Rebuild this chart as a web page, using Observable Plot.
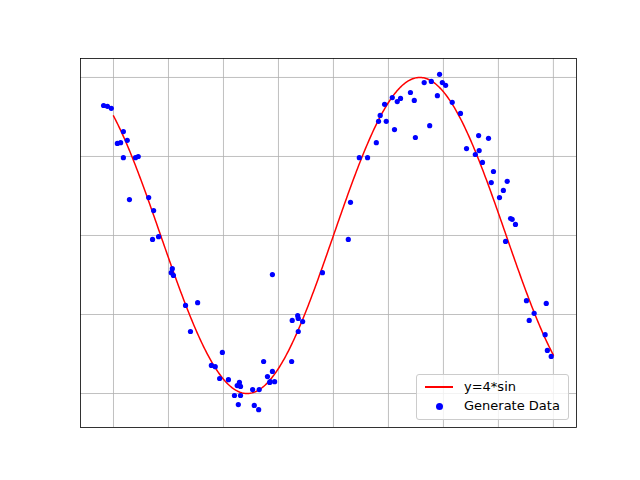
<!DOCTYPE html>
<html><head><meta charset="utf-8">
<script src="https://cdn.jsdelivr.net/npm/d3@7"></script>
<script src="https://cdn.jsdelivr.net/npm/@observablehq/plot@0.6"></script>
<style>
body{margin:0;background:#fff;font-family:"DejaVu Sans",sans-serif}
#wrap{position:relative;width:640px;height:480px}
#legend{position:absolute;left:416px;top:374px;width:151px;height:44px;border:1px solid #ccc;border-radius:3px;background:rgba(255,255,255,0.8);font-size:13px;color:#000}
#legend div{position:absolute;left:8px;display:flex;align-items:center}
</style></head><body>
<div id="wrap"><div id="chart"></div>
<div id="legend">
  <div style="top:4px"><span style="display:inline-block;width:28px;height:2px;background:red;margin-right:11px"></span>y=4*sin</div>
  <div style="top:23px"><span style="display:inline-block;width:28px;text-align:center;margin-right:11px"><span style="display:inline-block;width:7px;height:7px;border-radius:50%;background:blue"></span></span>Generate Data</div>
</div></div>
<script>
const xs = [-4.18,-4.11,-4.04,-3.93,-3.87,-3.82,-3.82,-3.75,-3.71,-3.60,-3.55,-3.36,-3.29,-3.27,-3.18,-2.95,-2.93,-2.91,-2.69,-2.60,-2.47,-2.22,-2.15,-2.07,-2.02,-1.91,-1.80,-1.75,-1.73,-1.71,-1.69,-1.69,-1.47,-1.44,-1.36,-1.35,-1.27,-1.20,-1.16,-1.15,-1.11,-1.11,-1.07,-0.76,-0.75,-0.65,-0.64,-0.64,-0.56,-0.20,0.27,0.31,0.47,0.62,0.78,0.82,0.85,0.93,0.96,1.07,1.11,1.16,1.22,1.40,1.47,1.49,1.65,1.75,1.78,1.89,1.93,1.98,2.04,2.16,2.31,2.42,2.58,2.64,2.65,2.71,2.82,2.87,2.91,3.02,3.09,3.13,3.16,3.22,3.25,3.31,3.51,3.56,3.65,3.85,3.87,3.89,3.96]
const ys = [3.29,3.27,3.22,2.33,2.35,2.63,1.97,2.41,0.91,1.97,2.00,0.96,-0.10,0.63,-0.03,-0.94,-0.84,-1.01,-1.77,-2.43,-1.70,-3.29,-3.32,-3.62,-2.96,-3.65,-4.05,-3.80,-4.28,-3.72,-4.05,-3.82,-3.90,-4.30,-4.41,-3.90,-3.19,-3.57,-3.72,-3.70,-3.44,-0.99,-3.70,-3.19,-2.15,-2.03,-2.10,-2.43,-2.18,-0.94,-0.10,0.84,1.97,1.97,2.35,2.89,3.04,3.32,2.89,3.49,2.68,3.39,3.47,3.62,3.42,2.48,3.87,2.78,3.90,3.54,4.08,3.87,3.80,3.37,3.09,2.20,2.05,2.53,2.15,1.85,2.46,1.34,1.62,0.96,1.14,-0.15,1.37,0.43,0.41,0.28,-1.65,-2.15,-1.97,-2.51,-1.72,-2.91,-3.06]
const xTicks = [-4,-3,-2,-1,0,1,2,3,4]
const yTicks = [-4,-2,0,2,4]

const points = xs.map((x, i) => ({x, y: ys[i]}))
const curve = d3.range(-4, 4.0001, 0.02).map(x => ({x, y: 4 * Math.sin(x)}))

const chart = Plot.plot({
  width: 640, height: 480,
  marginLeft: 80, marginRight: 64, marginTop: 58, marginBottom: 53,
  x: {domain: [-4.6, 4.42], ticks: xTicks, axis: null},
  y: {domain: [-4.86, 4.48], ticks: yTicks, axis: null},
  marks: [
    Plot.ruleX(xTicks, {stroke: "#b0b0b0", strokeOpacity: 1, strokeWidth: 0.8}),
    Plot.ruleY(yTicks, {stroke: "#b0b0b0", strokeOpacity: 1, strokeWidth: 0.8}),
    Plot.line(curve, {x: "x", y: "y", stroke: "red", strokeWidth: 1.5}),
    Plot.dot(points, {x: "x", y: "y", r: 2.6, fill: "blue", stroke: "none"}),
    Plot.frame({stroke: "black", strokeWidth: 0.8})
  ]
})
d3.select('#chart').append(() => chart)
</script></body></html>
